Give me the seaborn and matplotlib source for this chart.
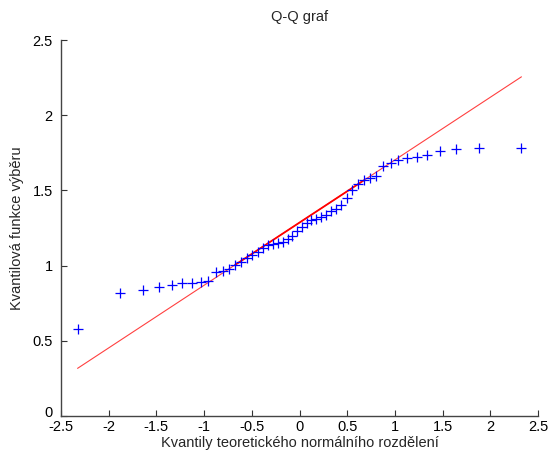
import statistics
import numpy as np
import pandas as pd
import matplotlib
matplotlib.use("Agg")
import matplotlib.pyplot as plt
import matplotlib.transforms as mtransforms
import seaborn as sns

# Sorted sample (50 observations)
sample_sorted = [
    0.578, 0.816, 0.836, 0.860, 0.869, 0.881, 0.883, 0.890, 0.895, 0.958,
    0.967, 0.978, 1.005, 1.027, 1.049, 1.070, 1.090, 1.120, 1.135, 1.145,
    1.150, 1.155, 1.180, 1.200, 1.230, 1.255, 1.280, 1.300, 1.310, 1.325,
    1.335, 1.360, 1.375, 1.400, 1.450, 1.505, 1.540, 1.567, 1.580, 1.595,
    1.660, 1.685, 1.700, 1.713, 1.725, 1.737, 1.765, 1.772, 1.780, 1.780,
]
x_ticks = [-2.5, -2, -1.5, -1, -0.5, 0, 0.5, 1, 1.5, 2, 2.5]
y_ticks = [0, 0.5, 1, 1.5, 2, 2.5]
x_tick_labels = ["-2.5", "-2", "-1.5", "-1", "-0.5", "0", "0.5", "1", "1.5", "2", "2.5"]
y_tick_labels = ["0", "0.5", "1", "1.5", "2", "2.5"]
title_text = "Q-Q graf"
x_label = "Kvantily teoretického normálního rozdělení"
y_label = "Kvantilová funkce výběru"

# Theoretical normal quantiles at plotting positions (i - 0.5) / n
n = len(sample_sorted)
nd = statistics.NormalDist()
theo = [nd.inv_cdf((i + 0.5) / n) for i in range(n)]
df = pd.DataFrame({"theo": theo, "sample": sample_sorted})

# Reference line through the first and third quartiles
q1_x, q3_x = nd.inv_cdf(0.25), nd.inv_cdf(0.75)
q1_y = sample_sorted[int(round(0.25 * n + 0.5)) - 1]
q3_y = sample_sorted[int(round(0.75 * n + 0.5)) - 1]
slope = (q3_y - q1_y) / (q3_x - q1_x)
icpt = q1_y - slope * q1_x
ext = pd.DataFrame({"x": [theo[0], theo[-1]]})
ext["y"] = icpt + slope * ext["x"]
mid = pd.DataFrame({"x": [q1_x, q3_x], "y": [q1_y, q3_y]})

sns.set_style("ticks")
plt.rcParams["font.family"] = ["Liberation Sans", "DejaVu Sans"]
plt.rcParams["xtick.direction"] = "in"
plt.rcParams["ytick.direction"] = "in"

fig = plt.figure(figsize=(5.53, 4.55), dpi=100)
ax = fig.add_axes([61 / 553, 1 - 416 / 455, (538 - 61) / 553, (416 - 40) / 455])

sns.lineplot(data=ext, x="x", y="y", ax=ax, color="red", linewidth=0.8,
             alpha=0.75, estimator=None, sort=False)
sns.lineplot(data=mid, x="x", y="y", ax=ax, color="red", linewidth=1.3,
             estimator=None, sort=False)
sns.scatterplot(data=df, x="theo", y="sample", ax=ax, marker="+", color="blue",
                s=55, linewidth=0.9, zorder=3)

ax.set_xlim(-2.5, 2.5)
ax.set_ylim(0, 2.5)
ax.set_xticks(x_ticks)
ax.set_xticklabels(x_tick_labels)
ax.set_yticks(y_ticks)
ax.set_yticklabels(y_tick_labels)
ax.tick_params(axis="both", length=4, width=0.8, color="#333333",
               labelsize=10.5, labelcolor="black")
ax.tick_params(axis="x", pad=3)
ax.tick_params(axis="y", pad=6)
for side in ("top", "right"):
    ax.spines[side].set_visible(False)
for side in ("left", "bottom"):
    ax.spines[side].set_color("#444444")
    ax.spines[side].set_linewidth(1.0)

# lift the y "0" label a little so it clears the "-2.5" below it
zero_lbl = ax.get_yticklabels()[0]
zero_lbl.set_transform(zero_lbl.get_transform() +
                       mtransforms.ScaledTranslation(0, 3 / 72, fig.dpi_scale_trans))

ax.set_title(title_text, fontsize=10.5, pad=14)
ax.set_xlabel(x_label, fontsize=10.5, labelpad=1)
ax.set_ylabel(y_label, fontsize=10.5, labelpad=6)

fig.savefig("out.png", dpi=100)
